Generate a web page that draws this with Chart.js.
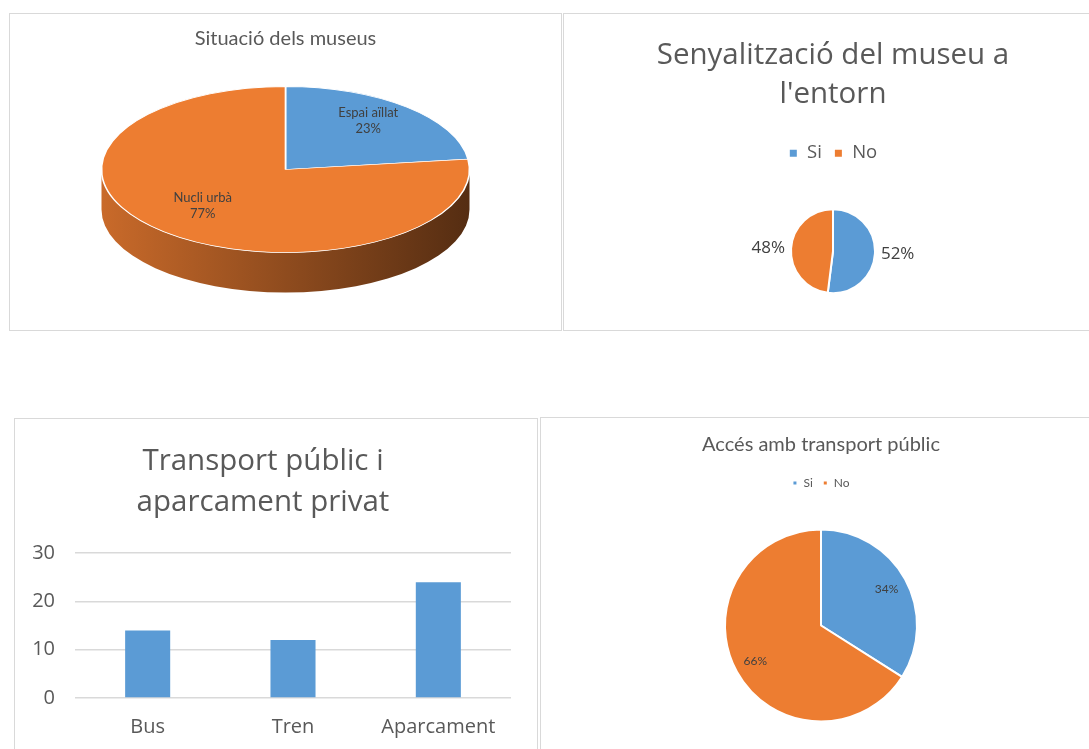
<!DOCTYPE html>
<html>
<head>
<meta charset="utf-8">
<script src="https://cdn.jsdelivr.net/npm/chart.js@4/dist/chart.umd.min.js"></script>
<style>
  body { margin: 0; background: #fff; overflow: hidden; width: 1089px; height: 749px; position: relative; }
  .panel { position: absolute; border: 1px solid #d9d9d9; box-sizing: border-box; overflow: hidden; background: #fff; }
  .panel canvas { position: absolute; left: 0; top: 0; }
</style>
</head>
<body>
<div class="panel" style="left:9px;top:13px;width:553px;height:318px"><canvas id="situacio" width="551" height="316"></canvas></div>
<div class="panel" style="left:563px;top:13px;width:540px;height:318px"><canvas id="senyal" width="538" height="316"></canvas></div>
<div class="panel" style="left:14px;top:418px;width:524px;height:360px"><canvas id="transport" width="522" height="358"></canvas></div>
<div class="panel" style="left:540px;top:417px;width:562px;height:362px"><canvas id="acces" width="560" height="360"></canvas></div>
<script>
// data
const situacioLabels = ['Espai aïllat', 'Nucli urbà'];
const situacioValues = [23, 77];
const senyalLabels = ['Si', 'No'];
const senyalValues = [52, 48];
const transportLabels = ['Bus', 'Tren', 'Aparcament'];
const transportValues = [14, 12, 24];
const transportTicks = [0, 10, 20, 30];
const accesLabels = ['Si', 'No'];
const accesValues = [34, 66];

const BLUE = '#5b9bd5', ORANGE = '#ed7d31';
const TITLE = '#595959', LABEL = '#404040';

function shade(hex, f){
  const n = parseInt(hex.slice(1), 16);
  const r = Math.round(((n >> 16) & 255) * f), g = Math.round(((n >> 8) & 255) * f), b = Math.round((n & 255) * f);
  return `rgb(${r},${g},${b})`;
}

// squash the pie into an ellipse and draw the front wall, like a 3D pie
const tilt3d = {
  id: 'tilt3d',
  beforeDatasetsDraw(chart, args, opts){
    const meta = chart.getDatasetMeta(0);
    const first = meta.data[0];
    const {x, y, outerRadius: r} = first;
    const sx = opts.rx / r, sy = opts.ry / r;
    chart.$tilt = {sx, sy};
    const ctx = chart.ctx;
    ctx.save();
    ctx.translate(x, y); ctx.scale(sx, sy); ctx.translate(-x, -y);
    const d = opts.depth / sy;
    const colors = chart.data.datasets[0].backgroundColor;
    meta.data.forEach((arc, i) => {
      const s = Math.max(arc.startAngle, 0), e = Math.min(arc.endAngle, Math.PI);
      if (e <= s) return;
      const grad = ctx.createLinearGradient(x - r, 0, x + r, 0);
      grad.addColorStop(0, shade(colors[i], 0.85));
      grad.addColorStop(1, shade(colors[i], 0.36));
      ctx.beginPath();
      ctx.arc(x, y, r, s, e);
      ctx.arc(x, y + d, r, e, s, true);
      ctx.closePath();
      ctx.fillStyle = grad;
      ctx.fill();
    });
  },
  afterDatasetsDraw(chart){
    chart.ctx.restore();
  }
};

// percentage labels for the pies
const pieLabels = {
  id: 'pieLabels',
  afterDraw(chart, args, opts){
    const ctx = chart.ctx;
    const meta = chart.getDatasetMeta(0);
    const ds = chart.data.datasets[0];
    const total = ds.data.reduce((a, b) => a + b, 0);
    const t = chart.$tilt || {sx: 1, sy: 1};
    ctx.save();
    ctx.font = opts.font;
    ctx.fillStyle = opts.color;
    ctx.textBaseline = 'middle';
    meta.data.forEach((arc, i) => {
      const mid = (arc.startAngle + arc.endAngle) / 2;
      const r = arc.outerRadius;
      const pct = Math.round(ds.data[i] / total * 100) + '%';
      if (opts.outside) {
        const px = arc.x + Math.cos(mid) * (r + opts.offset);
        const py = arc.y + Math.sin(mid) * (r + opts.offset);
        ctx.textAlign = Math.cos(mid) >= 0 ? 'left' : 'right';
        ctx.fillText(pct, px, py);
      } else {
        const px = arc.x + Math.cos(mid) * r * opts.factor * t.sx;
        const py = arc.y + Math.sin(mid) * r * opts.factor * t.sy + (opts.dy || 0);
        ctx.textAlign = 'center';
        if (opts.showName) {
          ctx.fillText(chart.data.labels[i], px, py - opts.lineGap / 2);
          ctx.fillText(pct, px, py + opts.lineGap / 2);
        } else {
          ctx.fillText(pct, px, py);
        }
      }
    });
    ctx.restore();
  }
};

const base = {
  responsive: false,
  animation: false,
  events: [],
};

new Chart(document.getElementById('situacio'), {
  type: 'pie',
  data: {
    labels: situacioLabels,
    datasets: [{ data: situacioValues, backgroundColor: [BLUE, ORANGE], borderColor: '#fff', borderWidth: 1, clip: false }]
  },
  options: {
    ...base,
    layout: { padding: { bottom: 50 } },
    plugins: {
      legend: { display: false },
      tooltip: { enabled: false },
      title: { display: true, text: 'Situació dels museus', color: TITLE, font: { family: 'Lato', size: 20, weight: 'normal' }, padding: { top: 13, bottom: 8 } },
      tilt3d: { rx: 184, ry: 83, depth: 40 },
      pieLabels: { font: '13px Lato', color: LABEL, factor: 0.68, dy: -6, showName: true, lineGap: 16 }
    }
  },
  plugins: [tilt3d, pieLabels]
});

new Chart(document.getElementById('senyal'), {
  type: 'pie',
  data: {
    labels: senyalLabels,
    datasets: [{ data: senyalValues, backgroundColor: [BLUE, ORANGE], borderColor: '#fff', borderWidth: 2, radius: 42 }]
  },
  options: {
    ...base,
    layout: { padding: { bottom: 0 } },
    plugins: {
      tooltip: { enabled: false },
      title: { display: true, text: ['Senyalització del museu a', "l'entorn"], color: TITLE, font: { family: 'Open Sans', size: 29.5, weight: 'normal', lineHeight: 1.32 }, padding: { top: 22, bottom: 18 } },
      legend: { position: 'top', labels: { color: TITLE, font: { family: 'Open Sans', size: 18.5 }, boxWidth: 9, boxHeight: 9, padding: 12 } },
      pieLabels: { font: '17px "Open Sans"', color: LABEL, outside: true, offset: 6 }
    }
  },
  plugins: [pieLabels]
});

new Chart(document.getElementById('transport'), {
  type: 'bar',
  data: {
    labels: transportLabels,
    datasets: [{ data: transportValues, backgroundColor: BLUE, categoryPercentage: 1, barPercentage: 0.31 }]
  },
  options: {
    ...base,
    layout: { padding: { left: 0, right: 26, bottom: 29 } },
    scales: {
      x: {
        grid: { display: false }, border: { display: false },
        ticks: { color: TITLE, font: { family: 'Open Sans', size: 20 }, padding: 9 }
      },
      y: {
        min: 0, max: 30,
        afterBuildTicks: s => { s.ticks = transportTicks.map(v => ({ value: v })); },
        afterFit: s => { s.width = 60; },
        grid: { color: '#d9d9d9', lineWidth: 1.5, drawTicks: false }, border: { display: false },
        ticks: { color: TITLE, font: { family: 'Open Sans', size: 20 }, padding: 20 }
      }
    },
    plugins: {
      legend: { display: false },
      tooltip: { enabled: false },
      title: { display: true, text: ['Transport públic i', 'aparcament privat'], color: TITLE, font: { family: 'Open Sans', size: 29.5, weight: 'normal', lineHeight: 1.36 }, padding: { top: 23, bottom: 31 } }
    }
  }
});

new Chart(document.getElementById('acces'), {
  type: 'pie',
  data: {
    labels: accesLabels,
    datasets: [{ data: accesValues, backgroundColor: [BLUE, ORANGE], borderColor: '#fff', borderWidth: 2, radius: 96 }]
  },
  options: {
    ...base,
    layout: { padding: { bottom: 26 } },
    plugins: {
      tooltip: { enabled: false },
      title: { display: true, text: 'Accés amb transport públic', color: TITLE, font: { family: 'Lato', size: 20, weight: 'normal' }, padding: { top: 15, bottom: 10 } },
      legend: { position: 'top', labels: { color: TITLE, font: { family: 'Lato', size: 12 }, boxWidth: 5, boxHeight: 5, padding: 10 } },
      pieLabels: { font: '12px Lato', color: LABEL, factor: 0.78 }
    }
  },
  plugins: [pieLabels]
});
</script>
</body>
</html>
